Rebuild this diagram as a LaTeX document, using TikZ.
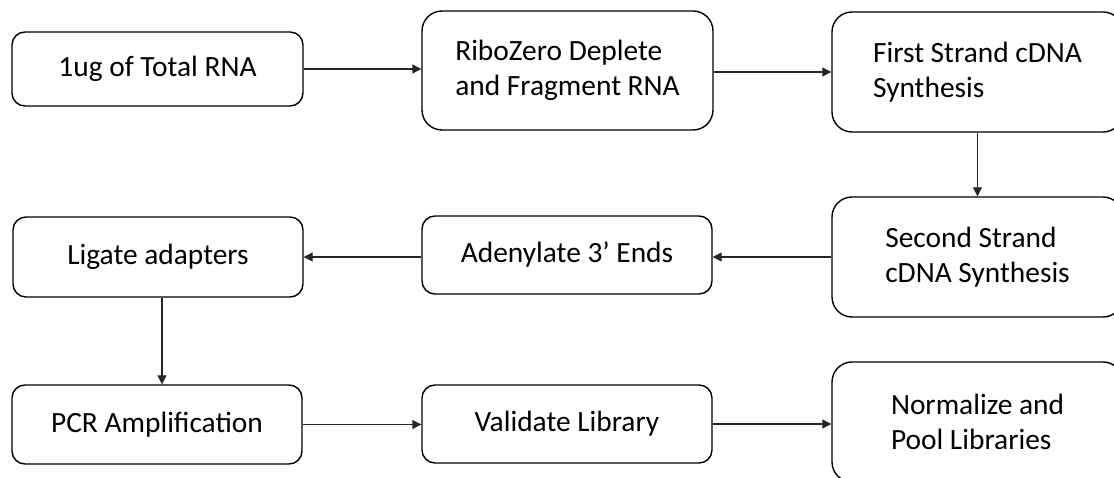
\documentclass[tikz,border=0pt]{standalone}
\usepackage{fontspec}
\setmainfont{Carlito}
\usetikzlibrary{arrows.meta}
\begin{document}
\begin{tikzpicture}[x=1pt,y=-1pt,
  stepbox/.style={draw=black, line width=1.4pt, inner sep=0pt,
    font=\fontsize{29.4}{35.5}\selectfont, align=left},
  lowbox/.style={stepbox, rounded corners=13pt},
  tallbox/.style={stepbox, rounded corners=20pt},
  arr/.style={draw=black!85, line width=1.1pt,
    -{Triangle[length=9pt,width=9pt]}}]
\useasboundingbox (0,0) rectangle (1114,478);

% top row
\node[lowbox, minimum width=291pt, minimum height=74pt] (b1) at (157.5,69) {1ug of Total RNA};
\node[tallbox, minimum width=291pt, minimum height=119pt] (b2) at (567.5,70.5) {RiboZero Deplete\\and Fragment RNA};
\node[tallbox, minimum width=291pt, minimum height=120pt] (b3) at (977.5,72) {First Strand cDNA\\Synthesis};

% middle row
\node[tallbox, minimum width=291pt, minimum height=120pt] (b4) at (977.5,257) {Second Strand\\cDNA Synthesis};
\node[lowbox, minimum width=290pt, minimum height=78pt] (b5) at (567,255) {Adenylate 3’ Ends};
\node[lowbox, minimum width=290pt, minimum height=80pt] (b6) at (158,257) {Ligate adapters};

% bottom row
\node[lowbox, minimum width=290pt, minimum height=79pt] (b7) at (157,424.5) {PCR Amplification};
\node[lowbox, minimum width=290pt, minimum height=78pt] (b8) at (567,424) {Validate Library};
\node[tallbox, minimum width=291pt, minimum height=120pt] (b9) at (977.5,422) {Normalize and\\Pool Libraries};

% connectors
\draw[arr] (b1.east) -- (b1.east -| b2.west);
\draw[arr] ([yshift=-1.5pt]b2.east) -- ([yshift=-1.5pt]b2.east -| b3.west);
\draw[arr] (b3.south) -- (b4.north);
\draw[arr] (b4.west) -- (b4.west -| b5.east);
\draw[arr] (b5.east -| b5.west) ++(0,2) coordinate (c5) (c5) -- (c5 -| b6.east);
\draw[arr] ([xshift=4pt]b6.south) -- ([xshift=4pt]b6.south |- b7.north);
\draw[arr] (b7.east) -- (b7.east -| b8.west);
\draw[arr] (b8.east) -- (b8.east -| b9.west);
\end{tikzpicture}
\end{document}
